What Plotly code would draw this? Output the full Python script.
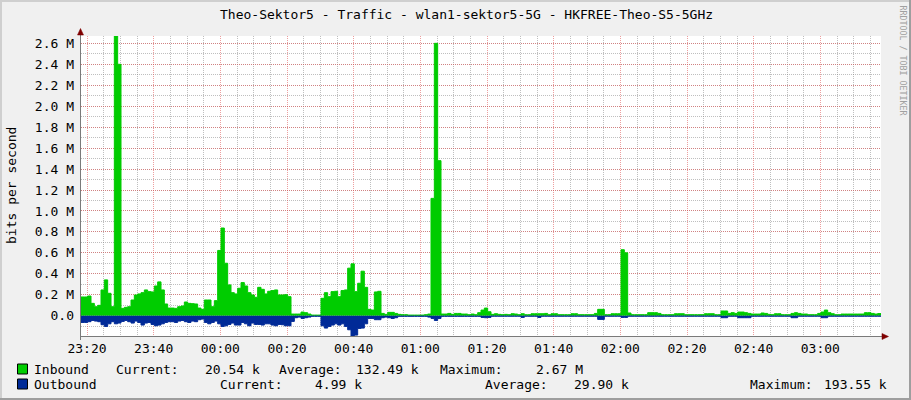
import plotly.graph_objects as go
import pandas as pd

# ---------------- data ----------------
TITLE = "Theo-Sektor5 - Traffic - wlan1-sektor5-5G - HKFREE-Theo-S5-5GHz"
START = "2013-05-01 23:18:12"      # left edge of the graph
END = "2013-05-02 03:18:12"        # right edge of the graph
STEP_MIN = 1                       # one sample per minute

# Inbound traffic, kbit/s, one value per minute
inbound_k = [
    179, 179, 188, 118, 86, 99, 246, 342, 214, 86,
    2670, 2400, 70, 80, 86, 150, 198, 208, 220, 246,
    230, 227, 284, 323, 246, 112, 73, 73, 70, 86,
    93, 131, 118, 115, 112, 73, 61, 150, 150, 86,
    144, 623, 837, 501, 294, 220, 208, 262, 316, 284,
    220, 198, 176, 271, 252, 208, 233, 240, 246, 198,
    198, 201, 182, 16, 16, 16, 35, 29, 16, 6,
    6, 6, 166, 220, 182, 230, 233, 182, 240, 246,
    454, 495, 230, 310, 425, 271, 61, 54, 227, 233,
    22, 13, 32, 32, 22, 13, 10, 10, 6, 6,
    6, 6, 6, 10, 16, 1120, 2600, 1480, 16, 16,
    22, 13, 22, 22, 16, 16, 10, 16, 10, 29,
    54, 73, 38, 13, 19, 13, 10, 13, 10, 19,
    16, 10, 19, 10, 10, 19, 19, 19, 19, 22,
    10, 19, 19, 10, 10, 10, 10, 19, 19, 10,
    10, 10, 10, 10, 22, 61, 61, 10, 10, 19,
    19, 19, 630, 600, 26, 10, 10, 10, 10, 10,
    29, 29, 29, 22, 10, 10, 10, 10, 19, 19,
    19, 10, 10, 10, 10, 10, 10, 19, 19, 19,
    10, 10, 45, 45, 22, 29, 22, 35, 35, 29,
    22, 16, 16, 16, 26, 22, 13, 10, 19, 19,
    10, 10, 10, 22, 29, 22, 16, 16, 10, 10,
    10, 22, 35, 54, 29, 19, 10, 10, 16, 16,
    16, 16, 16, 16, 16, 29, 29, 22, 16, 20.54,
]

# Outbound traffic, kbit/s, one value per minute (drawn below zero)
outbound_k = [
    64, 64, 57, 45, 51, 57, 86, 102, 77, 57,
    77, 70, 54, 45, 57, 70, 51, 64, 89, 70,
    64, 83, 96, 89, 77, 64, 57, 57, 64, 51,
    45, 57, 64, 51, 57, 38, 32, 64, 77, 64,
    51, 77, 102, 96, 83, 70, 89, 89, 64, 77,
    96, 70, 83, 83, 89, 77, 77, 89, 96, 83,
    86, 96, 96, 54, 19, 13, 26, 19, 13, 6,
    6, 6, 96, 118, 102, 89, 77, 89, 77, 102,
    134, 193.55, 185, 121, 118, 77, 26, 26, 38, 38,
    19, 13, 19, 26, 19, 6, 6, 6, 6, 6,
    6, 6, 6, 6, 13, 26, 45, 26, 6, 6,
    6, 6, 6, 6, 6, 6, 6, 6, 6, 6,
    16, 19, 16, 5, 5, 5, 5, 5, 5, 5,
    5, 5, 16, 5, 5, 5, 5, 16, 5, 5,
    5, 5, 5, 5, 5, 5, 5, 5, 5, 5,
    5, 5, 5, 5, 5, 35, 35, 5, 5, 5,
    5, 5, 16, 16, 5, 5, 5, 5, 5, 5,
    5, 5, 5, 5, 5, 5, 5, 5, 5, 5,
    5, 5, 5, 5, 5, 5, 5, 5, 5, 5,
    5, 5, 19, 19, 5, 5, 5, 19, 19, 19,
    19, 5, 5, 5, 5, 5, 5, 5, 5, 5,
    5, 5, 5, 19, 19, 5, 5, 5, 5, 5,
    5, 5, 19, 19, 5, 5, 5, 5, 5, 5,
    5, 5, 5, 5, 5, 5, 5, 5, 5, 4.99,
]

y_tick_vals_M = [0.0, 0.2, 0.4, 0.6, 0.8, 1.0, 1.2, 1.4, 1.6, 1.8, 2.0, 2.2, 2.4, 2.6]
y_tick_text = ["0.0", "0.2 M", "0.4 M", "0.6 M", "0.8 M", "1.0 M", "1.2 M", "1.4 M",
               "1.6 M", "1.8 M", "2.0 M", "2.2 M", "2.4 M", "2.6 M"]
Y_MAX_M = 2.67          # inbound maximum
Y_MIN_M = -0.19355      # -outbound maximum

legend_names = ["Inbound", "Outbound"]
legend_current = ["20.54 k", "4.99 k"]
legend_average = ["132.49 k", "29.90 k"]
legend_maximum = ["2.67 M", "193.55 k"]

# ---------------- build ----------------
W, H = 911, 400
L, R, T, B = 81, 881, 36, 336
FONT = "DejaVu Sans Mono"
GREEN = "#00CC00"
BLUE = "#002A97"


def fx(px):
    return (px - L) / (R - L)


def fy(py):
    return (B - py) / (B - T)


start = pd.Timestamp(START)
end = pd.Timestamp(END)
times = [start + pd.Timedelta(minutes=STEP_MIN * i) for i in range(len(inbound_k))]
times_ext = times + [end]
inb = [v * 1000 for v in inbound_k]
inb = inb + [inb[-1]]
outb = [-v * 1000 for v in outbound_k]
outb = outb + [outb[-1]]

fig = go.Figure()
fig.add_trace(go.Scatter(x=times_ext, y=inb, mode="lines", line=dict(shape="hv", width=1, color=GREEN),
                         fill="tozeroy", fillcolor=GREEN, hoverinfo="skip"))
fig.add_trace(go.Scatter(x=times_ext, y=outb, mode="lines", line=dict(shape="hv", width=1, color=BLUE),
                         fill="tozeroy", fillcolor=BLUE, hoverinfo="skip"))

MAJ = "rgba(222,80,80,0.55)"
MIN = "rgba(128,128,128,0.5)"
DASH = "1px,1px"

fig.update_layout(
    width=W, height=H,
    margin=dict(l=L, r=W - R, t=T, b=H - B, pad=0),
    paper_bgcolor="#F0F0F0", plot_bgcolor="#FFFFFF",
    showlegend=False,
    font=dict(family=FONT, size=13, color="#000000"),
)
fig.update_xaxes(
    type="date", range=[start, end],
    tickformat="%H:%M", tick0="2013-05-01 23:20:00", dtick=20 * 60 * 1000,
    showgrid=True, gridcolor=MAJ, griddash=DASH, gridwidth=1,
    minor=dict(dtick=5 * 60 * 1000, tick0="2013-05-01 23:20:00", showgrid=True,
               gridcolor=MIN, griddash=DASH, gridwidth=1),
    ticks="", showline=False, zeroline=False,
    tickfont=dict(family=FONT, size=13, color="#000000"),
    ticklabelstandoff=3,
)
fig.update_yaxes(
    range=[Y_MIN_M * 1e6, Y_MAX_M * 1e6],
    tickmode="array", tickvals=[v * 1e6 for v in y_tick_vals_M], ticktext=y_tick_text,
    showgrid=True, gridcolor=MAJ, griddash=DASH, gridwidth=1,
    minor=dict(tickmode="linear", tick0=0, dtick=100000, showgrid=True,
               gridcolor=MIN, griddash=DASH, gridwidth=1),
    ticks="", showline=False, zeroline=False,
    tickfont=dict(family=FONT, size=13, color="#000000"),
    ticklabelstandoff=6,
)

shapes = []
# frame shading
shapes.append(dict(type="rect", xref="paper", yref="paper", x0=fx(0), x1=fx(W), y0=fy(0), y1=fy(2),
                   fillcolor="#CFCFCF", line_width=0, layer="above"))
shapes.append(dict(type="rect", xref="paper", yref="paper", x0=fx(0), x1=fx(2), y0=fy(0), y1=fy(H),
                   fillcolor="#CFCFCF", line_width=0, layer="above"))
shapes.append(dict(type="rect", xref="paper", yref="paper", x0=fx(W - 2), x1=fx(W), y0=fy(0), y1=fy(H),
                   fillcolor="#9E9E9E", line_width=0, layer="above"))
shapes.append(dict(type="rect", xref="paper", yref="paper", x0=fx(0), x1=fx(W), y0=fy(H - 2), y1=fy(H),
                   fillcolor="#9E9E9E", line_width=0, layer="above"))
# axes
shapes.append(dict(type="line", xref="paper", yref="paper", x0=fx(L - 0.5), x1=fx(885), y0=fy(B + 0.5), y1=fy(B + 0.5),
                   line=dict(color="#7A7A7A", width=1), layer="above"))
shapes.append(dict(type="line", xref="paper", yref="paper", x0=fx(L - 0.5), x1=fx(L - 0.5), y0=fy(340), y1=fy(32),
                   line=dict(color="#7A7A7A", width=1), layer="above"))
# arrows
shapes.append(dict(type="path", xref="paper", yref="paper",
                   path=f"M {fx(77.5)} {fy(35)} L {fx(83.5)} {fy(35)} L {fx(80.5)} {fy(28.5)} Z",
                   fillcolor="#7F0000", line=dict(color="#7F0000", width=0.5), layer="above"))
shapes.append(dict(type="path", xref="paper", yref="paper",
                   path=f"M {fx(882)} {fy(333.5)} L {fx(882)} {fy(339.5)} L {fx(888.5)} {fy(336.5)} Z",
                   fillcolor="#7F0000", line=dict(color="#7F0000", width=0.5), layer="above"))
# legend swatches
for i, col in enumerate([GREEN, BLUE]):
    yc = 369 + 15 * i
    shapes.append(dict(type="rect", xref="paper", yref="paper", x0=fx(17.5), x1=fx(27.5),
                       y0=fy(yc - 5), y1=fy(yc + 5), fillcolor=col,
                       line=dict(color="#000000", width=1), layer="above"))
fig.update_layout(shapes=shapes)

ann = []


def txt(s, px, py, anchor="left", size=13, color="#000000", angle=0):
    ann.append(dict(text=s, xref="paper", yref="paper", x=fx(px), y=fy(py), xanchor=anchor,
                    yanchor="middle", showarrow=False, textangle=angle, borderpad=0,
                    font=dict(family=FONT, size=size, color=color)))


txt(TITLE, 466.5, 15, anchor="center")
txt("bits per second", 11, 186, anchor="center", angle=-90)
txt("RRDTOOL / TOBI OETIKER", 902.5, 60, anchor="center", size=8.3, color="#A0A0A0", angle=90)

row_x = [
    (32.5, 115, 203.5, 278, 355, 439, 534.7),
    (32.5, 218.6, 314, 483.6, 572.5, 748.6, 823),
]
for i in range(2):
    yc = 369 + 15 * i
    xs = row_x[i]
    txt(legend_names[i], xs[0], yc)
    txt("Current:", xs[1], yc)
    txt(legend_current[i], xs[2], yc)
    txt("Average:", xs[3], yc)
    txt(legend_average[i], xs[4], yc)
    txt("Maximum:", xs[5], yc)
    txt(legend_maximum[i], xs[6], yc)

fig.update_layout(annotations=ann)
fig.write_html(
    "out.html",
    config={"displayModeBar": False},
    post_script="document.body.style.margin='0px';document.body.style.padding='0px';",
)
